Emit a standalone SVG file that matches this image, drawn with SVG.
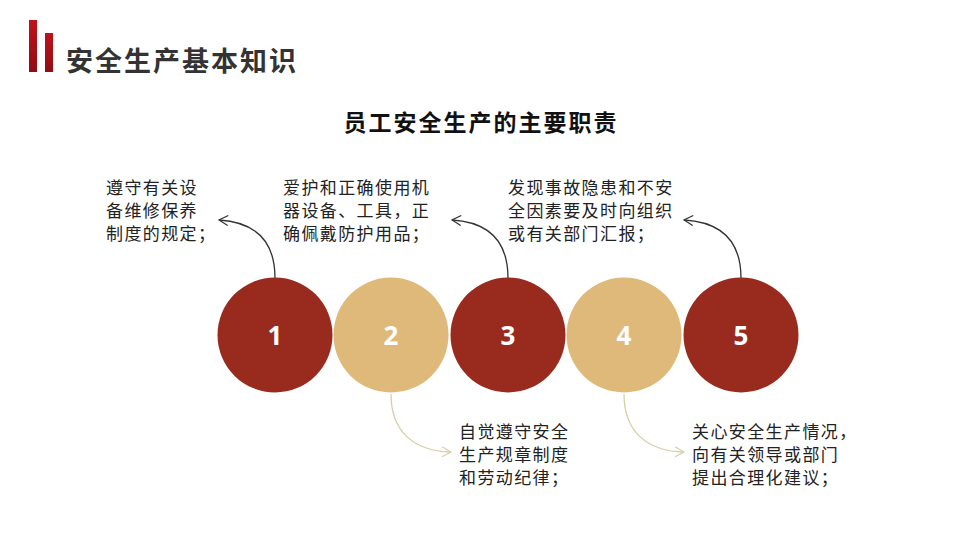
<svg xmlns="http://www.w3.org/2000/svg" width="960" height="540" viewBox="0 0 960 540">
<defs>
<linearGradient id="bar" x1="0" y1="0" x2="0" y2="1">
<stop offset="0" stop-color="#c0121b"/>
<stop offset="1" stop-color="#8e0e14"/>
</linearGradient>
<marker id="ahDark" markerWidth="12" markerHeight="12" refX="11" refY="6" orient="auto" markerUnits="userSpaceOnUse">
<path d="M2,1 L11,6 L2,11" fill="none" stroke="#333" stroke-width="1.2"/>
</marker>
<marker id="ahLight" markerWidth="12" markerHeight="12" refX="11" refY="6" orient="auto" markerUnits="userSpaceOnUse">
<path d="M2,1 L11,6 L2,11" fill="none" stroke="#d6cfa6" stroke-width="1.2"/>
</marker>
</defs>
<style>
.t{font-family:"Noto Sans CJK SC","Noto Sans",sans-serif;}
.body{font-size:17px;fill:#222;letter-spacing:1.4px;}
.num{font-family:"Noto Sans","DejaVu Sans",sans-serif;font-size:26px;font-weight:bold;fill:#fff;text-anchor:middle;}
.red{fill:#982b1e;}
.tan{fill:#dfb97a;}
.dark{fill:none;stroke:#333;stroke-width:1.3;}
.light{fill:none;stroke:#d6cfa6;stroke-width:1.3;}
</style>
<rect width="960" height="540" fill="#fff"/>
<g id="header">
<rect x="29" y="20" width="8" height="52" fill="url(#bar)"/>
<rect x="45" y="33" width="8" height="39" fill="url(#bar)"/>
<text x="66" y="71" class="t" font-size="27" font-weight="bold" fill="#333" letter-spacing="2">安全生产基本知识</text>
</g>
<g id="subtitle">
<text x="481" y="131" class="t" font-size="23" font-weight="bold" fill="#111" text-anchor="middle" letter-spacing="2">员工安全生产的主要职责</text>
</g>
<g id="connectors">
<path class="dark" d="M275,278 C275,238 252,222 219,220" marker-end="url(#ahDark)"/>
<path class="dark" d="M508,278 C508,238 485,222 452,220" marker-end="url(#ahDark)"/>
<path class="dark" d="M741,278 C741,238 718,222 684,220" marker-end="url(#ahDark)"/>
<path class="light" d="M391,394 C391,430 412,451 451,452" marker-end="url(#ahLight)"/>
<path class="light" d="M624,394 C624,430 645,451 684,452" marker-end="url(#ahLight)"/>
</g>
<g id="node1">
<circle cx="275" cy="335" r="57.5" class="red"/>
<text x="275" y="345" class="num">1</text>
</g>
<g id="node2">
<circle cx="391" cy="335" r="57.5" class="tan"/>
<text x="391" y="345" class="num">2</text>
</g>
<g id="node3">
<circle cx="508" cy="335" r="57.5" class="red"/>
<text x="508" y="345" class="num">3</text>
</g>
<g id="node4">
<circle cx="624" cy="335" r="57.5" class="tan"/>
<text x="624" y="345" class="num">4</text>
</g>
<g id="node5">
<circle cx="741" cy="335" r="57.5" class="red"/>
<text x="741" y="345" class="num">5</text>
</g>
<g id="text1" class="t body">
<text x="106" y="194">遵守有关设</text>
<text x="106" y="217">备维修保养</text>
<text x="106" y="240">制度的规定；</text>
</g>
<g id="text2" class="t body">
<text x="283" y="194">爱护和正确使用机</text>
<text x="283" y="217">器设备、工具，正</text>
<text x="283" y="240">确佩戴防护用品；</text>
</g>
<g id="text3" class="t body">
<text x="508" y="194">发现事故隐患和不安</text>
<text x="508" y="217">全因素要及时向组织</text>
<text x="508" y="240">或有关部门汇报；</text>
</g>
<g id="text4" class="t body">
<text x="459" y="438">自觉遵守安全</text>
<text x="459" y="461">生产规章制度</text>
<text x="459" y="484">和劳动纪律；</text>
</g>
<g id="text5" class="t body">
<text x="692" y="438">关心安全生产情况，</text>
<text x="692" y="461">向有关领导或部门</text>
<text x="692" y="484">提出合理化建议；</text>
</g>
</svg>
